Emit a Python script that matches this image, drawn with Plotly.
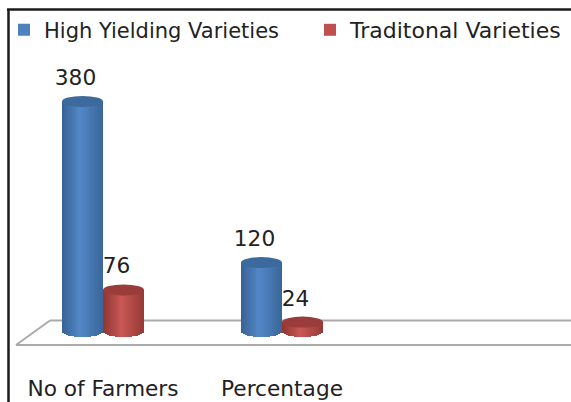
import math

import plotly.graph_objects as go

categories = ["No of Farmers", "Percentage"]
series_names = ["High Yielding Varieties", "Traditonal Varieties"]
high_yielding = [380, 120]
traditional = [76, 24]

WIDTH = 571
HEIGHT = 402
BOTTOM = 57
PLOT_H = HEIGHT - BOTTOM

# pixels per unit
X_SCALE = 179
Y_SCALE = 0.62
ZERO_PX = 337
BAR_W = 41 / X_SCALE
CAP_H = 5.5 / Y_SCALE
N_STRIPS = 21

TEXT = "#222222"
FONT = "DejaVu Sans"
FONT_SIZE = 21
LABEL_SIZE = 21.7

# edge, middle, edge colours of the cylinder shading
BLUE_SHADES = [(0x38, 0x63, 0x95), (0x53, 0x88, 0xc8), (0x3a, 0x66, 0x99)]
RED_SHADES = [(0x8f, 0x36, 0x33), (0xca, 0x58, 0x55), (0x96, 0x3a, 0x37)]
BLUE_CAP = "#3d6a9c"
RED_CAP = "#9a3c39"
BLUE_KEY = "#4f81bd"
RED_KEY = "#c0504d"


def strip_colour(shades, pos):
    # pos runs 0..1 across the cylinder, lightest just left of the middle
    mid = 0.45
    if pos <= mid:
        a, b, f = shades[0], shades[1], pos / mid
    else:
        a, b, f = shades[1], shades[2], (pos - mid) / (1 - mid)
    return "rgb(%d,%d,%d)" % tuple(a[i] + (b[i] - a[i]) * f for i in range(3))


def add_cylinders(fig, values, centre, shades, name, key, legend):
    positions = [i + centre for i in range(len(values))]
    strip_w = BAR_W / N_STRIPS
    for s in range(N_STRIPS):
        pos = (s + 0.5) / N_STRIPS
        t = 2 * pos - 1
        # base follows the bottom curve of the cylinder
        lift = CAP_H * (1 - math.sqrt(1 - t * t))
        fig.add_bar(
            x=[p + t * BAR_W / 2 for p in positions],
            y=[v - lift for v in values],
            base=lift,
            width=strip_w * 1.15,
            marker=dict(color=strip_colour(shades, pos), line=dict(width=0)),
            showlegend=False,
            hoverinfo="skip",
        )
    # dummy trace so the legend gets a flat key colour
    fig.add_bar(
        x=[None],
        y=[None],
        name=name,
        legend=legend,
        marker=dict(color=key, line=dict(width=0)),
    )
    return positions


def cap_shapes(values, positions, colour):
    shapes = []
    for v, p in zip(values, positions):
        shapes.append(dict(
            type="circle",
            xref="x",
            yref="y",
            x0=p - BAR_W / 2,
            x1=p + BAR_W / 2,
            y0=v - CAP_H,
            y1=v + CAP_H,
            fillcolor=colour,
            line=dict(width=0),
            layer="above",
        ))
    return shapes


def line_shape(x0, y0, x1, y1, colour, width, layer):
    return dict(
        type="line",
        xref="paper",
        yref="paper",
        x0=x0 / WIDTH,
        x1=x1 / WIDTH,
        y0=(PLOT_H - y0) / PLOT_H,
        y1=(PLOT_H - y1) / PLOT_H,
        line=dict(color=colour, width=width),
        layer=layer,
    )


def legend_box(left_px, size):
    return dict(
        orientation="h",
        x=left_px / WIDTH,
        y=(PLOT_H - 30) / PLOT_H,
        xanchor="left",
        yanchor="middle",
        bgcolor="rgba(0,0,0,0)",
        font=dict(family=FONT, size=size, color=TEXT),
    )


fig = go.Figure()

blue_x = add_cylinders(fig, high_yielding, -BAR_W / 2, BLUE_SHADES, series_names[0], BLUE_KEY, "legend")
red_x = add_cylinders(fig, traditional, BAR_W / 2, RED_SHADES, series_names[1], RED_KEY, "legend2")

# data labels sit up and to the left of the bars
label_dx = -7 / X_SCALE
label_dy = 22 / Y_SCALE
fig.add_scatter(
    x=[p + label_dx for p in blue_x + red_x],
    y=[v + label_dy for v in high_yielding + traditional],
    text=[str(v) for v in high_yielding + traditional],
    mode="text",
    textposition="middle center",
    textfont=dict(family=FONT, size=LABEL_SIZE, color=TEXT),
    showlegend=False,
    hoverinfo="skip",
)

floor_colour = "#aaaaaa"
frame_colour = "#1a1a1a"
shapes = [
    line_shape(16, 345, WIDTH, 345, floor_colour, 2, "below"),
    line_shape(50, 320.5, WIDTH, 320.5, floor_colour, 2, "below"),
    line_shape(16, 345, 50, 320.5, floor_colour, 2, "below"),
    line_shape(7, 9.5, WIDTH, 9.5, frame_colour, 2.5, "above"),
    line_shape(8.5, 9.5, 8.5, HEIGHT, frame_colour, 2.5, "above"),
]
shapes += cap_shapes(high_yielding, blue_x, BLUE_CAP)
shapes += cap_shapes(traditional, red_x, RED_CAP)

fig.update_layout(
    width=WIDTH,
    height=HEIGHT,
    margin=dict(l=0, r=0, t=0, b=BOTTOM),
    paper_bgcolor="white",
    plot_bgcolor="white",
    barmode="overlay",
    bargap=0,
    shapes=shapes,
    font=dict(family=FONT, size=FONT_SIZE, color=TEXT),
    legend=legend_box(4, FONT_SIZE),
    legend2=legend_box(310, 22),
)
fig.update_xaxes(
    range=[-103 / X_SCALE, (WIDTH - 103) / X_SCALE],
    tickmode="array",
    tickvals=list(range(len(categories))),
    ticktext=categories,
    showgrid=False,
    zeroline=False,
    showline=False,
    automargin=False,
    ticks="outside",
    ticklen=24,
    tickcolor="rgba(0,0,0,0)",
    tickfont=dict(family=FONT, size=LABEL_SIZE, color=TEXT),
)
fig.update_yaxes(
    range=[(ZERO_PX - PLOT_H) / Y_SCALE, ZERO_PX / Y_SCALE],
    visible=False,
)

# the page has to start at the window corner
fig.write_html(
    "out.html",
    config=dict(displayModeBar=False),
    post_script="document.body.style.margin='0';",
)
